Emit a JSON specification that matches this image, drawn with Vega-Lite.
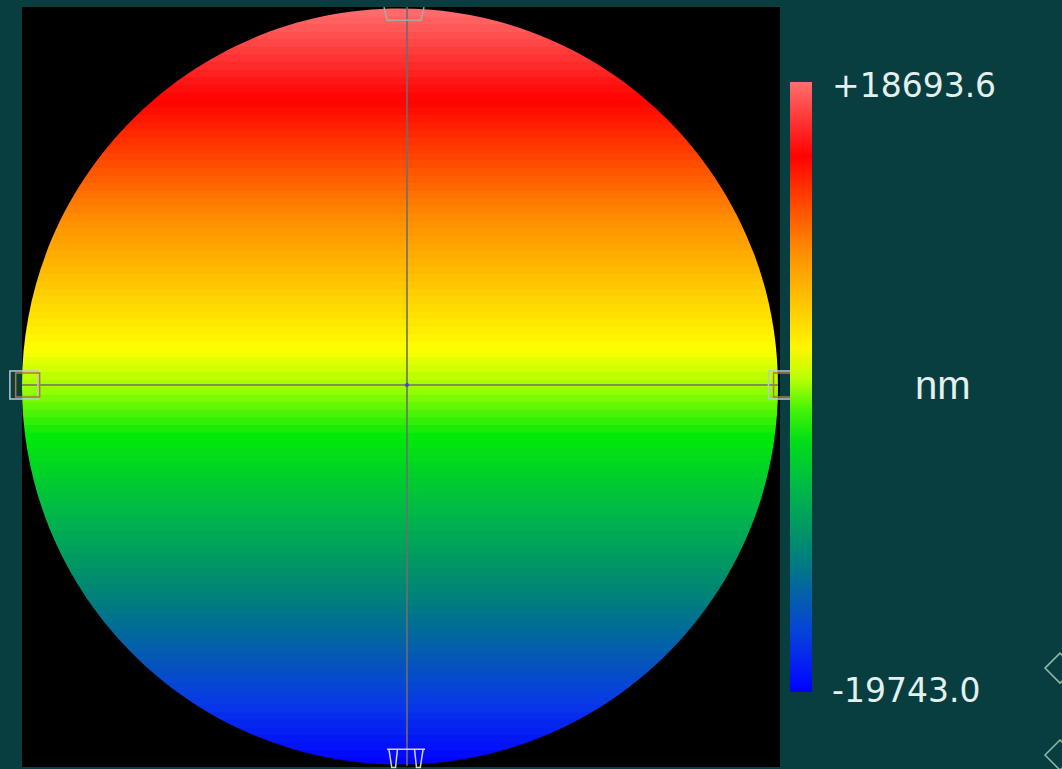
{
  "$schema": "https://vega.github.io/schema/vega-lite/v6.json",
  "width": 758,
  "height": 760,
  "autosize": {"type": "none"},
  "padding": {"left": 22, "top": 7, "right": 282, "bottom": 2},
  "background": "#083e3f",
  "config": {"view": {"fill": "#000000", "stroke": null}},
  "datasets": {
    "bands": [
      {"y": -0.99, "h": -19551}, {"y": -0.97, "h": -19166}, {"y": -0.95, "h": -18782}, {"y": -0.93, "h": -18398},
      {"y": -0.91, "h": -18013}, {"y": -0.89, "h": -17629}, {"y": -0.87, "h": -17245}, {"y": -0.85, "h": -16860},
      {"y": -0.83, "h": -16476}, {"y": -0.81, "h": -16091}, {"y": -0.79, "h": -15707}, {"y": -0.77, "h": -15323},
      {"y": -0.75, "h": -14938}, {"y": -0.73, "h": -14554}, {"y": -0.71, "h": -14170}, {"y": -0.69, "h": -13785},
      {"y": -0.67, "h": -13401}, {"y": -0.65, "h": -13017}, {"y": -0.63, "h": -12632}, {"y": -0.61, "h": -12248},
      {"y": -0.59, "h": -11863}, {"y": -0.57, "h": -11479}, {"y": -0.55, "h": -11095}, {"y": -0.53, "h": -10710},
      {"y": -0.51, "h": -10326}, {"y": -0.49, "h": -9942}, {"y": -0.47, "h": -9557}, {"y": -0.45, "h": -9173},
      {"y": -0.43, "h": -8789}, {"y": -0.41, "h": -8404}, {"y": -0.39, "h": -8020}, {"y": -0.37, "h": -7635},
      {"y": -0.35, "h": -7251}, {"y": -0.33, "h": -6867}, {"y": -0.31, "h": -6482}, {"y": -0.29, "h": -6098},
      {"y": -0.27, "h": -5714}, {"y": -0.25, "h": -5329}, {"y": -0.23, "h": -4945}, {"y": -0.21, "h": -4561},
      {"y": -0.19, "h": -4176}, {"y": -0.17, "h": -3792}, {"y": -0.15, "h": -3407}, {"y": -0.13, "h": -3023},
      {"y": -0.11, "h": -2639}, {"y": -0.09, "h": -2254}, {"y": -0.07, "h": -1870}, {"y": -0.05, "h": -1486},
      {"y": -0.03, "h": -1101}, {"y": -0.01, "h": -717}, {"y": 0.01, "h": -333}, {"y": 0.03, "h": 52},
      {"y": 0.05, "h": 436}, {"y": 0.07, "h": 820}, {"y": 0.09, "h": 1205}, {"y": 0.11, "h": 1589},
      {"y": 0.13, "h": 1974}, {"y": 0.15, "h": 2358}, {"y": 0.17, "h": 2742}, {"y": 0.19, "h": 3127},
      {"y": 0.21, "h": 3511}, {"y": 0.23, "h": 3895}, {"y": 0.25, "h": 4280}, {"y": 0.27, "h": 4664},
      {"y": 0.29, "h": 5048}, {"y": 0.31, "h": 5433}, {"y": 0.33, "h": 5817}, {"y": 0.35, "h": 6202},
      {"y": 0.37, "h": 6586}, {"y": 0.39, "h": 6970}, {"y": 0.41, "h": 7355}, {"y": 0.43, "h": 7739},
      {"y": 0.45, "h": 8123}, {"y": 0.47, "h": 8508}, {"y": 0.49, "h": 8892}, {"y": 0.51, "h": 9276},
      {"y": 0.53, "h": 9661}, {"y": 0.55, "h": 10045}, {"y": 0.57, "h": 10430}, {"y": 0.59, "h": 10814},
      {"y": 0.61, "h": 11198}, {"y": 0.63, "h": 11583}, {"y": 0.65, "h": 11967}, {"y": 0.67, "h": 12351},
      {"y": 0.69, "h": 12736}, {"y": 0.71, "h": 13120}, {"y": 0.73, "h": 13504}, {"y": 0.75, "h": 13889},
      {"y": 0.77, "h": 14273}, {"y": 0.79, "h": 14658}, {"y": 0.81, "h": 15042}, {"y": 0.83, "h": 15426},
      {"y": 0.85, "h": 15811}, {"y": 0.87, "h": 16195}, {"y": 0.89, "h": 16579}, {"y": 0.91, "h": 16964},
      {"y": 0.93, "h": 17348}, {"y": 0.95, "h": 17733}, {"y": 0.97, "h": 18117}, {"y": 0.99, "h": 18501}
    ],
    "disk": [{"x": 0, "y": 0}],
    "cross": [
      {"x": -1.0, "x2": 1.0, "y": 0.004, "y2": 0.004},
      {"x": 0.0185, "x2": 0.0185, "y": -1.003, "y2": 1.004}
    ],
    "lightSquares": [{"x": -0.995, "y": 0.004}, {"x": 1.012, "y": 0.004}],
    "orangeSquares": [{"x": -0.985, "y": 0.004}, {"x": 1.02, "y": 0.004}],
    "topMarker": [{"x": 0.0106, "y": 0.985}],
    "bottomMarker": [{"x": 0.0159, "y": -0.9775}],
    "centre": [{"x": 0.0185, "y": 0.004}],
    "sideButtons": [{"x": 1.746, "y": -0.745}, {"x": 1.746, "y": -0.975}]
  },
  "layer": [
    {
      "data": {"name": "bands"},
      "mark": {"type": "rule", "strokeWidth": 9, "strokeCap": "butt"},
      "encoding": {
        "x": {"datum": -1, "type": "quantitative", "scale": {"domain": [-1.0, 1.0053], "nice": false, "zero": false}, "axis": null},
        "x2": {"datum": 1},
        "y": {"field": "y", "type": "quantitative", "scale": {"domain": [-1.0066, 1.004], "nice": false, "zero": false}, "axis": null},
        "color": {
          "field": "h",
          "type": "quantitative",
          "scale": {
            "domain": [-19743, -16668, -11287, -6290, -3023, -525, 1397, 8316, 14081, 18693.6],
            "range": ["#0000ff", "#0838e8", "#00807a", "#00c040", "#00ea08", "#a0ff00", "#ffff00", "#ff8800", "#ff0000", "#ff6f6f"],
            "interpolate": "rgb"
          },
          "legend": {
            "orient": "none",
            "legendX": 768,
            "legendY": 75,
            "direction": "vertical",
            "title": null,
            "padding": 0,
            "gradientLength": 610,
            "gradientThickness": 22,
            "gradientStrokeWidth": 0,
            "values": [-19743, -524.7, 18693.6],
            "labelExpr": "abs(datum.value) < 1000 ? 'nm' : (datum.value > 0 ? '+' : '-') + format(abs(datum.value), '.1f')",
            "labelFont": "DejaVu Sans",
            "labelFontSize": 33,
            "labelColor": "#e4f0ee",
            "labelOffset": 20,
            "labelLimit": 400,
            "labelOverlap": false,
            "encode": {
              "labels": {
                "update": {
                  "dx": {"signal": "abs(datum.value) < 1000 ? 83 : 0"},
                  "dy": {"signal": "datum.value > 18000 ? 5 : 0"},
                  "fontSize": {"signal": "abs(datum.value) < 1000 ? 40 : 33"},
                  "font": {"signal": "abs(datum.value) < 1000 ? 'Liberation Sans' : 'DejaVu Sans'"},
                  "baseline": {"value": "middle"}
                }
              }
            }
          }
        }
      }
    },
    {
      "data": {"name": "disk"},
      "mark": {
        "type": "point",
        "shape": "M-1.06,-1.06L1.06,-1.06L1.06,1.06L-1.06,1.06Z M0,-1C-0.5523,-1 -1,-0.5523 -1,0C-1,0.5523 -0.5523,1 0,1C0.5523,1 1,0.5523 1,0C1,-0.5523 0.5523,-1 0,-1Z",
        "size": 571536,
        "filled": true,
        "color": "#000000",
        "opacity": 1,
        "strokeWidth": 0,
        "clip": true
      },
      "encoding": {
        "x": {"field": "x", "type": "quantitative", "scale": {"domain": [-1.0, 1.0053], "nice": false, "zero": false}, "axis": null},
        "y": {"field": "y", "type": "quantitative", "scale": {"domain": [-1.0066, 1.004], "nice": false, "zero": false}, "axis": null}
      }
    },
    {
      "data": {"name": "cross"},
      "mark": {"type": "rule", "color": "#6e6e6e", "strokeWidth": 1.6},
      "encoding": {
        "x": {"field": "x", "type": "quantitative"},
        "x2": {"field": "x2"},
        "y": {"field": "y", "type": "quantitative"},
        "y2": {"field": "y2"}
      }
    },
    {
      "data": {"name": "lightSquares"},
      "mark": {"type": "point", "shape": "square", "size": 784, "filled": false, "color": "#b8c8d8", "strokeWidth": 1.5, "opacity": 1},
      "encoding": {
        "x": {"field": "x", "type": "quantitative"},
        "y": {"field": "y", "type": "quantitative"}
      }
    },
    {
      "data": {"name": "orangeSquares"},
      "mark": {"type": "point", "shape": "square", "size": 576, "filled": false, "color": "#b07a30", "strokeWidth": 1.5, "opacity": 1},
      "encoding": {
        "x": {"field": "x", "type": "quantitative"},
        "y": {"field": "y", "type": "quantitative"}
      }
    },
    {
      "data": {"name": "topMarker"},
      "mark": {"type": "point", "shape": "M-1,-0.35L-0.85,0.3L0.85,0.3L1,-0.35", "size": 1600, "filled": false, "color": "#a8a8a8", "strokeWidth": 1.5, "opacity": 1},
      "encoding": {
        "x": {"field": "x", "type": "quantitative"},
        "y": {"field": "y", "type": "quantitative"}
      }
    },
    {
      "data": {"name": "bottomMarker"},
      "mark": {"type": "point", "shape": "M-1,-0.35L1,-0.35M-0.9,-0.35L-0.75,0.6L-0.55,0.6L-0.45,-0.35M0.45,-0.35L0.55,0.6L0.75,0.6L0.9,-0.35", "size": 1444, "filled": false, "color": "#d0d4d8", "strokeWidth": 1.5, "opacity": 1},
      "encoding": {
        "x": {"field": "x", "type": "quantitative"},
        "y": {"field": "y", "type": "quantitative"}
      }
    },
    {
      "data": {"name": "centre"},
      "mark": {"type": "point", "shape": "circle", "size": 16, "filled": true, "color": "#3c3cff", "opacity": 1},
      "encoding": {
        "x": {"field": "x", "type": "quantitative"},
        "y": {"field": "y", "type": "quantitative"}
      }
    },
    {
      "data": {"name": "sideButtons"},
      "mark": {"type": "point", "shape": "diamond", "size": 900, "filled": false, "color": "#8fb8a8", "strokeWidth": 1.5, "opacity": 1},
      "encoding": {
        "x": {"field": "x", "type": "quantitative"},
        "y": {"field": "y", "type": "quantitative"}
      }
    }
  ]
}
